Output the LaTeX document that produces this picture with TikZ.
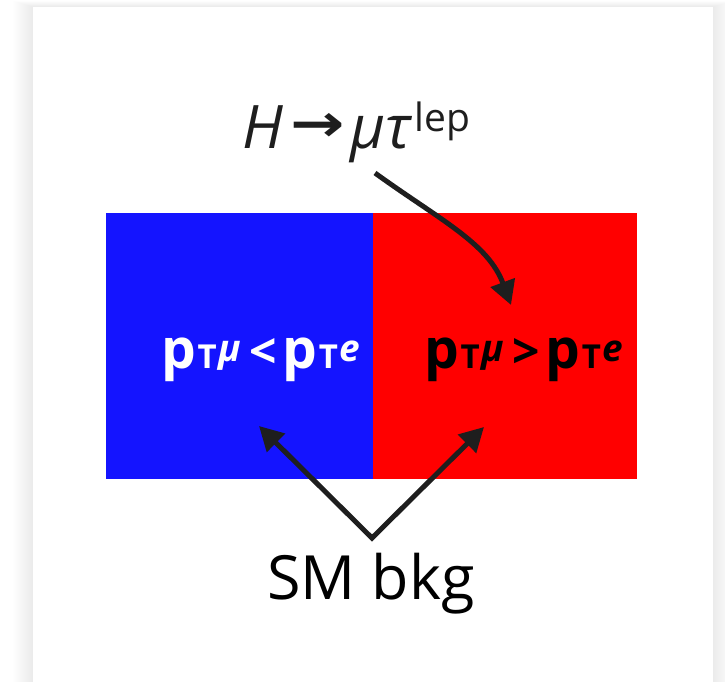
\documentclass[tikz,border=0pt]{standalone}
\usepackage{fontspec}
\setmainfont{Open Sans}
\newfontfamily\arrowfont{DejaVu Sans}
\usetikzlibrary{arrows.meta}
\definecolor{boxblue}{RGB}{20,20,255}
\definecolor{boxred}{RGB}{255,0,0}
\definecolor{ink}{RGB}{30,30,30}
\newcommand\mypt[1]{p\hspace{1.5pt}{\fontsize{33}{33}\selectfont T}\hspace{2pt}\raisebox{7pt}{\fontsize{37}{37}\selectfont\itshape #1}}
\tikzset{
  conn/.style={draw=ink, line width=5pt, -{Triangle[length=24pt,width=25pt]}},
  lbl/.style={anchor=base, inner sep=0pt, text=ink},
  region/.style={inner sep=0pt, minimum height=266pt, anchor=north west, draw=none},
}
\begin{document}
\begin{tikzpicture}[x=1pt,y=-1pt]
\useasboundingbox (0,0) rectangle (725,682);
\fill[white] (0,0) rectangle (725,682);
\foreach \i in {1,...,20} \fill[black,opacity=0.005] (33-\i,7-0.3*\i) rectangle (713+\i,700);
\fill[white] (33,7) rectangle (713,700);
% regions
\node[region, fill=boxblue, minimum width=267pt] (blue) at (106,213) {};
\node[region, fill=boxred, minimum width=264pt] (red) at (373,213) {};
% labels
\node[lbl, anchor=base west] (title) at (242,148) {\fontsize{60}{60}\selectfont\itshape H\hspace{7pt}\raisebox{6pt}{\upshape\arrowfont\bfseries\fontsize{52}{52}\selectfont\scalebox{1.25}[1]{→}}\hspace{6pt}μτ\hspace{4pt}\raisebox{17pt}{\upshape\fontsize{39}{39}\selectfont lep}};
\node[lbl, anchor=base west, text=white] (ltext) at (161,368) {\fontsize{55}{55}\selectfont\bfseries \mypt{μ}\hspace{8pt}{\fontsize{48}{48}\selectfont<}\hspace{6pt}\mypt{e}};
\node[lbl, anchor=base west, text=black] (rtext) at (424,368) {\fontsize{55}{55}\selectfont\bfseries \mypt{μ}\hspace{8pt}{\fontsize{48}{48}\selectfont>}\hspace{6pt}\mypt{e}};
\node[lbl, text=black] (sm) at (371,599) {\fontsize{61}{61}\selectfont SM bkg};
% connectors
\coordinate (cs) at (375,173);
\coordinate (ct) at (511,305);
\draw[conn] (cs) .. controls (440,220) and (488,243) .. (ct);
\coordinate (v) at (372,538);
\coordinate (lt) at (259,426);
\coordinate (rt) at (484,427);
\draw[conn, {Triangle[length=24pt,width=25pt]}-{Triangle[length=24pt,width=25pt]}] (lt) -- (v) -- (rt);
\end{tikzpicture}
\end{document}
